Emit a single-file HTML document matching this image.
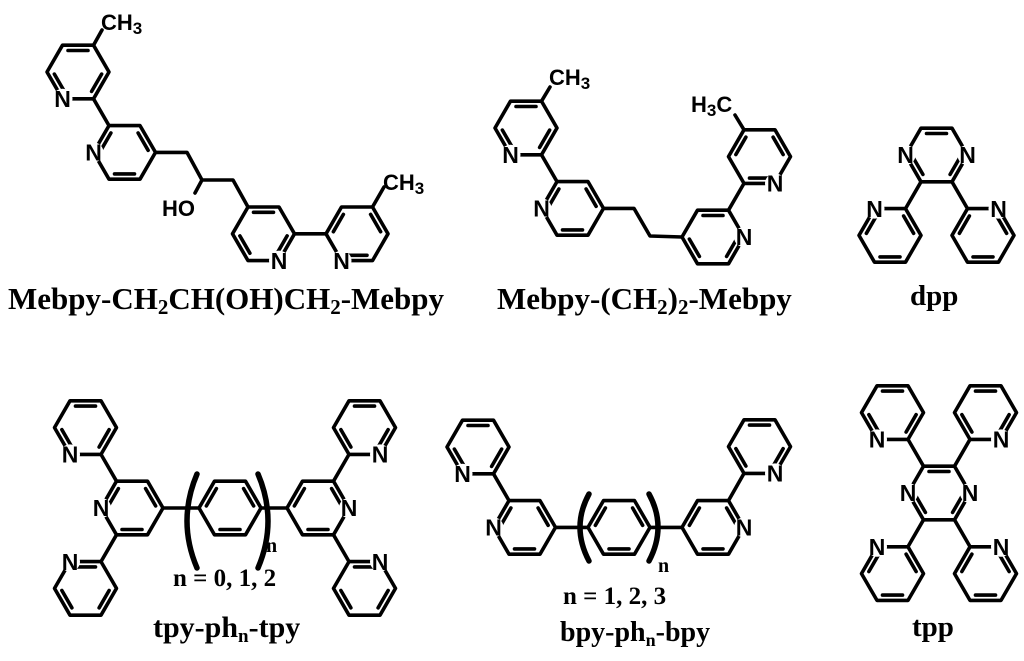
<!DOCTYPE html>
<html><head><meta charset="utf-8"><style>
html,body{margin:0;padding:0;background:#fff;}
svg{display:block;}
.b{stroke:#000;stroke-width:3.6;fill:none;stroke-linejoin:round;stroke-linecap:round;}
.w{fill:#fff;stroke:none;}
.at{font-family:"Liberation Sans",sans-serif;font-weight:bold;font-size:22px;fill:#000;}
.n{font-family:"Liberation Sans",sans-serif;font-weight:bold;font-size:23px;fill:#000;text-anchor:middle;}
.lb{font-family:"Liberation Serif",serif;font-weight:bold;font-size:29px;fill:#000;}
</style></head><body>
<svg width="1024" height="661" viewBox="0 0 1024 661" xmlns="http://www.w3.org/2000/svg">
<defs>
<polygon id="h" points="-31,0 -15.5,-26.8 15.5,-26.8 31,0 15.5,26.8 -15.5,26.8"/>
<line id="e" x1="-10" y1="-21.5" x2="10" y2="-21.5"/>
<g id="dA"><use href="#h"/><use href="#e"/><use href="#e" transform="rotate(120)"/><use href="#e" transform="rotate(240)"/></g>
<g id="dB"><use href="#h"/><use href="#e" transform="rotate(60)"/><use href="#e" transform="rotate(180)"/><use href="#e" transform="rotate(300)"/></g>
</defs>
<g class="b">
<use href="#dA" transform="translate(78,72)"/>
<use href="#dB" transform="translate(124.5,152.4)"/>
<use href="#dA" transform="translate(263.5,233.8)"/>
<use href="#dB" transform="translate(357,233.8)"/>
<path d="M93.5,98.8L109,125.6 M155.5,152.4L187,152.4L202,180L233,180L248,207 M202,180L195,193 M294.5,233.8L326,233.8 M93.5,45.2L102,30 M372.5,207L384,187"/>
<use href="#dA" transform="translate(526,128)"/>
<use href="#dB" transform="translate(572.5,208.4)"/>
<use href="#dA" transform="translate(713,237)"/>
<use href="#dB" transform="translate(759.5,156.6)"/>
<path d="M541.5,154.8L557,181.6 M603.5,208.4L634,208.4L650,236L682,237 M728.5,210.2L744,183.4 M541.5,101.2L550,87 M744,129.8L735,115"/>
<use href="#dA" transform="translate(936.5,155)"/>
<use href="#dB" transform="translate(890,235.4)"/>
<use href="#dB" transform="translate(983,235.4)"/>
<path d="M921,181.8L905.5,208.6 M952,181.8L967.5,208.6"/>
<use href="#dB" transform="translate(132,508)"/>
<use href="#dA" transform="translate(85.5,427.6)"/>
<use href="#dA" transform="translate(85.5,588.4)"/>
<use href="#dB" transform="translate(230,508)"/>
<use href="#dB" transform="translate(318,508)"/>
<use href="#dA" transform="translate(364.5,427.6)"/>
<use href="#dA" transform="translate(364.5,588.4)"/>
<path d="M116.5,481.2L101,454.4 M116.5,534.8L101,561.6 M163,508L199,508 M261,508L287,508 M333.5,481.2L349,454.4 M333.5,534.8L349,561.6"/>
<path d="M197,474Q177,521 197,568 M258,474Q278,521 258,568" stroke-width="5.5"/>
<use href="#dA" transform="translate(478,447)"/>
<use href="#dB" transform="translate(524.5,527.4)"/>
<use href="#dB" transform="translate(619,527.4)"/>
<use href="#dB" transform="translate(713,527.4)"/>
<use href="#dA" transform="translate(759.5,446.6)"/>
<path d="M493.5,473.8L509,500.6 M555.5,527.4L588,527.4 M650,527.4L682,527.4 M728.5,500.6L744,473.4"/>
<path d="M589,494Q571,527 589,561 M649,494Q667,527 649,561" stroke-width="5.5"/>
<use href="#dA" transform="translate(939,493)"/>
<use href="#dA" transform="translate(892.5,412.6)"/>
<use href="#dA" transform="translate(985.5,412.6)"/>
<use href="#dB" transform="translate(892.5,573.6)"/>
<use href="#dB" transform="translate(985.5,573.6)"/>
<path d="M923.5,466.2L908,439.4 M954.5,466.2L970,439.4 M923.5,519.8L908,546.6 M954.5,519.8L970,546.6"/>
</g>
<g class="w">
<circle cx="62.5" cy="98.8" r="10"/><circle cx="93.5" cy="152.4" r="10"/><circle cx="279" cy="260.6" r="10"/><circle cx="341.5" cy="260.6" r="10"/>
<circle cx="510.5" cy="154.8" r="10"/><circle cx="541.5" cy="208.4" r="10"/><circle cx="744" cy="237" r="10"/><circle cx="775" cy="183.4" r="10"/>
<circle cx="905.5" cy="155" r="10"/><circle cx="967.5" cy="155" r="10"/><circle cx="874.5" cy="208.6" r="10"/><circle cx="998.5" cy="208.6" r="10"/>
<circle cx="101" cy="508" r="10"/><circle cx="70" cy="454.4" r="10"/><circle cx="70" cy="561.6" r="10"/><circle cx="349" cy="508" r="10"/><circle cx="380" cy="454.4" r="10"/><circle cx="380" cy="561.6" r="10"/>
<circle cx="462.5" cy="473.8" r="10"/><circle cx="493.5" cy="527.4" r="10"/><circle cx="744" cy="527.4" r="10"/><circle cx="775" cy="473.4" r="10"/>
<circle cx="908" cy="493" r="10"/><circle cx="970" cy="493" r="10"/><circle cx="877" cy="439.4" r="10"/><circle cx="1001" cy="439.4" r="10"/><circle cx="877" cy="546.8" r="10"/><circle cx="1001" cy="546.8" r="10"/>
</g>
<g class="n">
<text x="62.5" y="107">N</text><text x="93.5" y="160.6">N</text><text x="279" y="268.8">N</text><text x="341.5" y="268.8">N</text>
<text x="510.5" y="163">N</text><text x="541.5" y="216.6">N</text><text x="744" y="245.2">N</text><text x="775" y="191.6">N</text>
<text x="905.5" y="163.2">N</text><text x="967.5" y="163.2">N</text><text x="874.5" y="216.8">N</text><text x="998.5" y="216.8">N</text>
<text x="101" y="516.2">N</text><text x="70" y="462.6">N</text><text x="70" y="569.8">N</text><text x="349" y="516.2">N</text><text x="380" y="462.6">N</text><text x="380" y="569.8">N</text>
<text x="462.5" y="482">N</text><text x="493.5" y="535.6">N</text><text x="744" y="535.6">N</text><text x="775" y="481.6">N</text>
<text x="908" y="501.2">N</text><text x="970" y="501.2">N</text><text x="877" y="447.6">N</text><text x="1001" y="447.6">N</text><text x="877" y="555">N</text><text x="1001" y="555">N</text>
</g>
<g class="at">
<text x="101" y="30">CH<tspan font-size="17" dy="4">3</tspan></text>
<text x="162" y="216">HO</text>
<text x="383" y="190">CH<tspan font-size="17" dy="4">3</tspan></text>
<text x="549" y="85">CH<tspan font-size="17" dy="4">3</tspan></text>
<text x="691" y="112">H<tspan font-size="17" dy="4">3</tspan><tspan dy="-4">C</tspan></text>
</g>
<g class="lb">
<text x="8" y="309" font-size="31">Mebpy-CH<tspan font-size="21" dy="5">2</tspan><tspan dy="-5">CH(OH)CH</tspan><tspan font-size="21" dy="5">2</tspan><tspan dy="-5">-Mebpy</tspan></text>
<text x="497" y="309" font-size="31">Mebpy-(CH<tspan font-size="21" dy="5">2</tspan><tspan dy="-5">)</tspan><tspan font-size="21" dy="5">2</tspan><tspan dy="-5">-Mebpy</tspan></text>
<text x="910" y="305">dpp</text>
<text x="173" y="586" font-size="25">n = 0, 1, 2</text>
<text x="266" y="552" font-size="20">n</text>
<text x="153" y="637" font-size="30">tpy-ph<tspan font-size="19" dy="5">n</tspan><tspan dy="-5">-tpy</tspan></text>
<text x="563" y="604" font-size="25">n = 1, 2, 3</text>
<text x="658" y="572" font-size="20">n</text>
<text x="560" y="641" font-size="28">bpy-ph<tspan font-size="18" dy="5">n</tspan><tspan dy="-5">-bpy</tspan></text>
<text x="912" y="636">tpp</text>
</g>
</svg>
</body></html>
